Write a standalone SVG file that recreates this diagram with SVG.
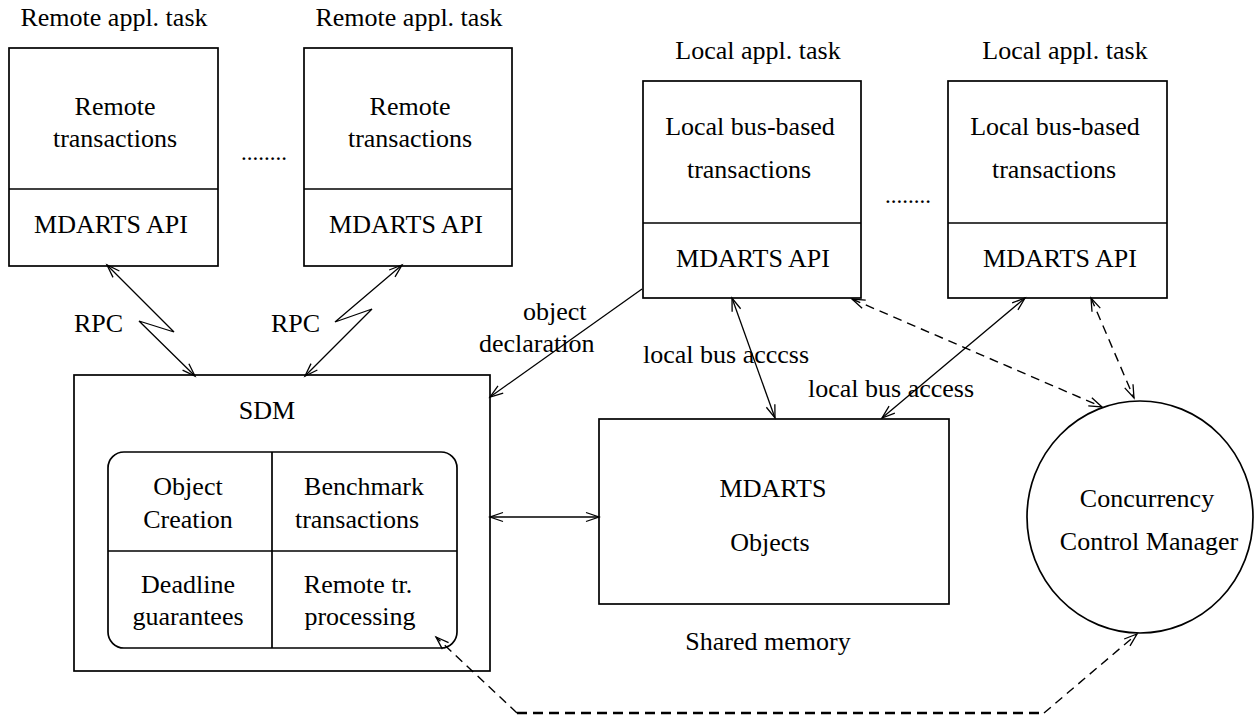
<svg xmlns="http://www.w3.org/2000/svg" width="1254" height="715" viewBox="0 0 1254 715">
  <defs>
    <!-- open V arrowhead, tip at the path end -->
    <marker id="arr" viewBox="-14 -7 16 14" refX="0" refY="0" markerWidth="16" markerHeight="14" markerUnits="userSpaceOnUse" orient="auto-start-reverse" overflow="visible">
      <path d="M-13,-4.5 L0,0 L-13,4.5" fill="none" stroke="#000" stroke-width="1.3"/>
    </marker>
  </defs>
  <style>
    .box { fill: none; stroke: #000; stroke-width: 1.7; }
    .ln { fill: none; stroke: #000; stroke-width: 1.3; }
    .dash { fill: none; stroke: #000; stroke-width: 1.4; stroke-dasharray: 9 6; }
    .dash-h { fill: none; stroke: #000; stroke-width: 2.4; stroke-dasharray: 10 6; }
    text { font-family: "Liberation Serif", "Times New Roman", serif; font-size: 26px; fill: #000; }
    .c { text-anchor: middle; }
  </style>
  <rect width="1254" height="715" fill="#fff"/>

  <!-- remote application tasks -->
  <g id="remote-task-1">
    <text class="c" x="114" y="26">Remote appl. task</text>
    <rect class="box" x="9" y="48" width="209" height="218"/>
    <line class="box" x1="9" y1="189" x2="218" y2="189"/>
    <text class="c" x="115" y="115">Remote</text>
    <text class="c" x="115" y="147">transactions</text>
    <text class="c" x="111" y="233">MDARTS API</text>
  </g>
  <text id="dots-remote" x="241" y="160" style="font-size:23px">........</text>
  <g id="remote-task-2">
    <text class="c" x="409" y="26">Remote appl. task</text>
    <rect class="box" x="304" y="48" width="208" height="218"/>
    <line class="box" x1="304" y1="189" x2="512" y2="189"/>
    <text class="c" x="410" y="115">Remote</text>
    <text class="c" x="410" y="147">transactions</text>
    <text class="c" x="406" y="233">MDARTS API</text>
  </g>

  <!-- local application tasks -->
  <g id="local-task-1">
    <text class="c" x="758" y="59">Local appl. task</text>
    <rect class="box" x="643" y="81" width="218" height="217"/>
    <line class="box" x1="643" y1="223" x2="861" y2="223"/>
    <text class="c" x="750" y="135">Local bus-based</text>
    <text class="c" x="749" y="178">transactions</text>
    <text class="c" x="753" y="267">MDARTS API</text>
  </g>
  <text id="dots-local" x="885" y="203" style="font-size:23px">........</text>
  <g id="local-task-2">
    <text class="c" x="1065" y="59">Local appl. task</text>
    <rect class="box" x="948" y="81" width="219" height="217"/>
    <line class="box" x1="948" y1="223" x2="1167" y2="223"/>
    <text class="c" x="1055" y="135">Local bus-based</text>
    <text class="c" x="1054" y="178">transactions</text>
    <text class="c" x="1060" y="267">MDARTS API</text>
  </g>

  <!-- SDM with its four services -->
  <g id="sdm">
    <rect class="box" x="74" y="375" width="416" height="296"/>
    <text class="c" x="267" y="419">SDM</text>
    <rect class="box" x="108" y="452" width="349" height="196" rx="16" ry="16"/>
    <line class="box" x1="272" y1="452" x2="272" y2="648"/>
    <line class="box" x1="108" y1="551" x2="457" y2="551"/>
    <text class="c" x="188" y="495">Object</text>
    <text class="c" x="188" y="528">Creation</text>
    <text class="c" x="364" y="495">Benchmark</text>
    <text class="c" x="357" y="528">transactions</text>
    <text class="c" x="188" y="593">Deadline</text>
    <text class="c" x="188" y="625">guarantees</text>
    <text class="c" x="358" y="593">Remote tr.</text>
    <text class="c" x="360" y="625">processing</text>
  </g>

  <!-- shared memory -->
  <g id="shared-memory">
    <rect class="box" x="599" y="419" width="350" height="185"/>
    <text class="c" x="773" y="497">MDARTS</text>
    <text class="c" x="770" y="551">Objects</text>
    <text class="c" x="768" y="650">Shared memory</text>
  </g>

  <!-- concurrency control manager -->
  <g id="ccm">
    <ellipse class="box" cx="1140" cy="517" rx="113" ry="116"/>
    <text class="c" x="1147" y="507">Concurrency</text>
    <text class="c" x="1149" y="550">Control Manager</text>
  </g>

  <!-- connectors -->
  <g id="connectors">
    <polyline class="ln" points="107,265 174,332 139,321 195,376" marker-start="url(#arr)" marker-end="url(#arr)"/>
    <polyline class="ln" points="402,265 335,322 372,309 305,376" marker-start="url(#arr)" marker-end="url(#arr)"/>
    <line class="ln" x1="642" y1="289" x2="490" y2="397" marker-end="url(#arr)"/>
    <line class="ln" x1="732" y1="298" x2="775" y2="418" marker-start="url(#arr)" marker-end="url(#arr)"/>
    <line class="ln" x1="1025" y1="298" x2="882" y2="418" marker-start="url(#arr)" marker-end="url(#arr)"/>
    <line class="ln" x1="490" y1="517" x2="599" y2="517" marker-start="url(#arr)" marker-end="url(#arr)"/>
    <line class="dash" x1="852" y1="299" x2="1102" y2="407" marker-start="url(#arr)" marker-end="url(#arr)"/>
    <line class="dash" x1="1091" y1="298" x2="1134" y2="398" marker-start="url(#arr)" marker-end="url(#arr)"/>
    <!-- SDM remote processing to concurrency manager, routed below -->
    <line class="dash" x1="517" y1="713" x2="436" y2="637" marker-end="url(#arr)"/>
    <line class="dash-h" x1="517" y1="713" x2="1044" y2="713"/>
    <line class="dash" x1="1044" y1="713" x2="1137" y2="634" marker-end="url(#arr)"/>
  </g>

  <!-- connector labels -->
  <g id="labels">
    <text x="74" y="332">RPC</text>
    <text x="271" y="332">RPC</text>
    <text x="523" y="320">object</text>
    <text x="479" y="352">declaration</text>
    <text x="643" y="363">local bus acccss</text>
    <text x="808" y="397">local bus access</text>
  </g>
</svg>
